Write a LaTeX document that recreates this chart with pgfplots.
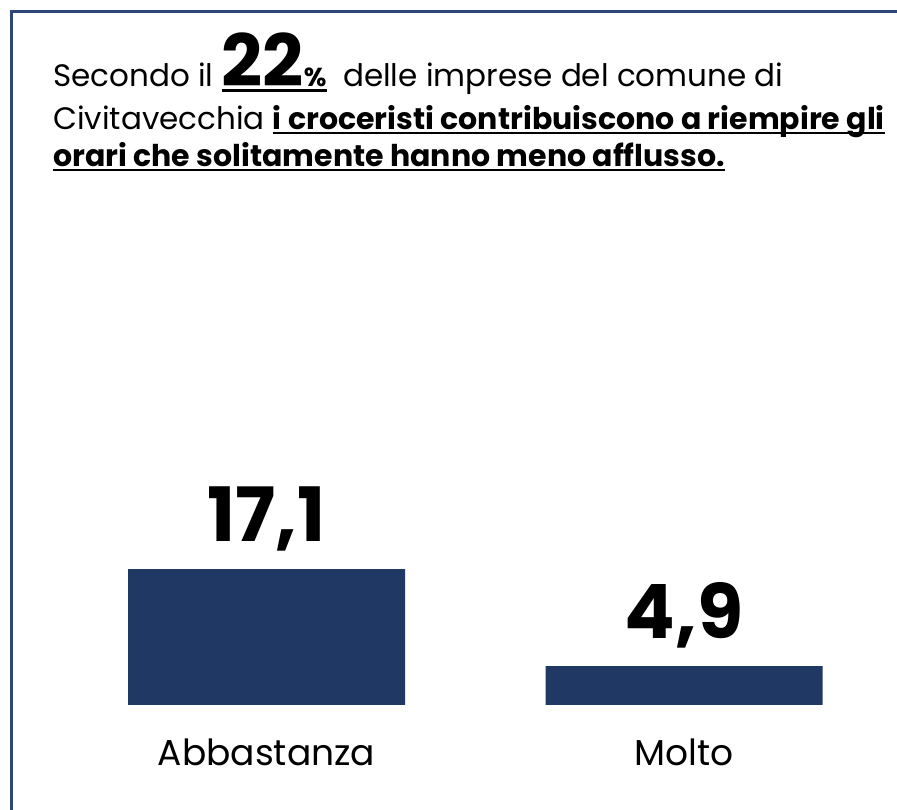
\documentclass[border=0pt]{standalone}
\usepackage{pgfplots}
\pgfplotsset{compat=1.18}
\usepackage{fontspec}
\setmainfont{Poppins}
\definecolor{barblue}{HTML}{203864}
\definecolor{frameblue}{HTML}{2A4776}
\newcommand\ul[1]{\setbox0\hbox{#1}\rlap{\rule[-4.5pt]{\wd0}{2pt}}\box0}
\newcommand\ulbig[1]{\setbox0\hbox{#1}\rlap{\rule[-5pt]{\wd0}{3pt}}\box0}
\begin{document}
\begin{tikzpicture}[x=1pt,y=1pt]
\useasboundingbox (0,0) rectangle (897,810);
\draw[frameblue, line width=3.2pt] (11.5,0) -- (11.5,798.5) -- (897,798.5);
\node[anchor=base west, inner sep=0, font=\fontsize{31}{36}\selectfont] at (53,723.3)
  {Secondo il \ulbig{\bfseries\fontsize{72}{74}\selectfont 22\fontsize{26}{30}\selectfont\%}\ \ delle imprese del comune di};
\node[anchor=base west, inner sep=0, font=\fontsize{31}{36}\selectfont] at (53,680)
  {Civitavecchia {\fontsize{30}{36}\selectfont\ul{\bfseries i croceristi contribuiscono a riempire gli}}};
\node[anchor=base west, inner sep=0, font=\fontsize{30}{36}\selectfont] at (53,643)
  {\ul{\bfseries orari che solitamente hanno meno afflusso.}};
\begin{axis}[at={(57.75pt,105pt)}, anchor=south west, scale only axis,
  width=835pt, height=198.75pt, xmin=-0.5, xmax=1.5, ymin=0, ymax=25,
  axis line style={draw=none}, ybar, bar width=277pt,
  ytick=\empty, xtick=data, xticklabels={Abbastanza,Molto}, major tick length=0pt,
  xticklabel style={font=\fontsize{36}{40}\selectfont, anchor=base, yshift=-61pt, inner sep=0pt},
  point meta=explicit symbolic,
  nodes near coords,
  nodes near coords style={font=\fontsize{75}{80}\selectfont\bfseries, anchor=base, yshift=28pt, inner sep=0pt, text=black},
  clip=false]
\addplot[fill=barblue, draw=none] coordinates {(0,17.1) [17,1] (1,4.9) [4,9]};
\end{axis}
\end{tikzpicture}
\end{document}
